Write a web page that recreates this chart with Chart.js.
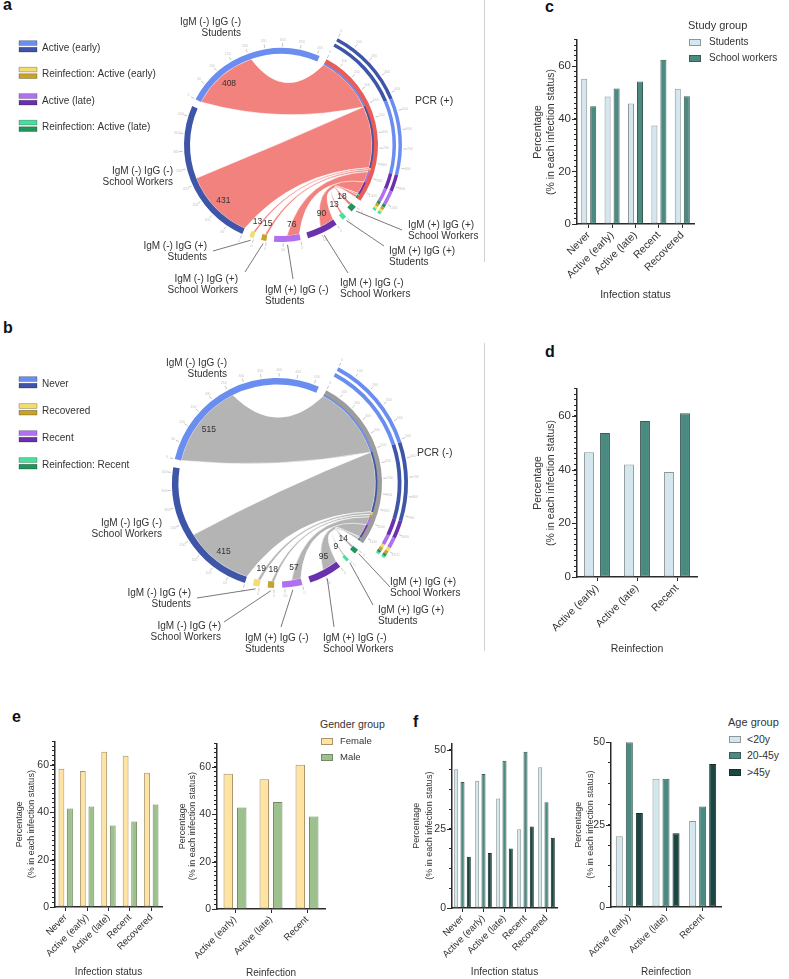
<!DOCTYPE html>
<html>
<head>
<meta charset="utf-8">
<script src="https://cdn.jsdelivr.net/npm/chart.js@4"></script>
<style>
  body { margin: 0; background: #fff; }
  #page { position: relative; width: 789px; height: 979px; overflow: hidden; background: #fff;
          font-family: 'Liberation Sans', Arial, sans-serif; color: #333; }
  #page canvas { position: absolute; }
  .txt { position: absolute; white-space: nowrap; line-height: 1; color: #333; }
  .letter { position: absolute; font-weight: bold; font-size: 16px; line-height: 16px; color: #111; }
  .rule { position: absolute; width: 1px; background: #d0d0d0; }
  .swatch { position: absolute; box-sizing: border-box; border: 1px solid; }
</style>
</head>
<body>
<div id="page">
  <div class="letter" style="left:3px;top:-3px">a</div>
  <div class="letter" style="left:3px;top:320px">b</div>
  <div class="letter" style="left:545px;top:-1px">c</div>
  <div class="letter" style="left:545px;top:344px">d</div>
  <div class="letter" style="left:12px;top:709px">e</div>
  <div class="letter" style="left:413px;top:714px">f</div>
  <div class="rule" style="left:484px;top:0;height:262px"></div>
  <div class="rule" style="left:484px;top:343px;height:308px"></div>
</div>
<script>
Chart.defaults.font.family = "'Liberation Sans', Arial, sans-serif";
Chart.defaults.color = '#333';

// ---- chord diagrams: number of participants per antibody group ----
const groupNames = [
  ['IgM (-) IgG (-)', 'Students'], ['IgM (-) IgG (-)', 'School Workers'],
  ['IgM (-) IgG (+)', 'Students'], ['IgM (-) IgG (+)', 'School Workers'],
  ['IgM (+) IgG (-)', 'Students'], ['IgM (+) IgG (-)', 'School Workers'],
  ['IgM (+) IgG (+)', 'Students'], ['IgM (+) IgG (+)', 'School Workers']
];
const pcrPosCounts = [408, 431, 13, 15, 76, 90, 13, 18];
const pcrNegCounts = [515, 415, 19, 18, 57, 95, 9, 14];
const pcrPosLegend = ['Active (early)', 'Reinfection: Active (early)', 'Active (late)', 'Reinfection: Active (late)'];
const pcrNegLegend = ['Never', 'Recovered', 'Recent', 'Reinfection: Recent'];
const groupColors = ['#6a8ef0', '#3f56a8', '#f3dc70', '#c6a42c', '#b070f0', '#6a30ae', '#45e09c', '#22945c'];

// ---- bar charts: percentage in each infection status ----
const statusLabels = ['Never', 'Active (early)', 'Active (late)', 'Recent', 'Recovered'];
const reinfectionLabels = ['Active (early)', 'Active (late)', 'Recent'];
const studentsByStatus = [55.2, 48.5, 45.8, 37.5, 51.4];
const workersByStatus = [44.8, 51.5, 54.2, 62.5, 48.6];
const studentsByReinfection = [46.4, 41.9, 39.1];
const workersByReinfection = [53.6, 58.1, 60.9];
const femaleByStatus = [58.4, 57.5, 65.6, 63.9, 56.7];
const maleByStatus = [41.6, 42.5, 34.4, 36.1, 43.3];
const femaleByReinfection = [57.1, 54.8, 60.9];
const maleByReinfection = [42.9, 45.2, 39.1];
const under20ByStatus = [43.8, 40.2, 34.6, 24.9, 44.4];
const age20to45ByStatus = [39.8, 42.3, 46.5, 49.3, 33.4];
const over45ByStatus = [16.2, 17.4, 18.8, 25.7, 22.2];
const under20ByReinfection = [21.5, 38.9, 26.1];
const age20to45ByReinfection = [50.0, 38.9, 30.5];
const over45ByReinfection = [28.5, 22.4, 43.4];

const FONT = "'Liberation Sans', Arial, sans-serif";
const page = document.getElementById('page');

function makeCanvas(left, top, width, height) {
  const canvas = document.createElement('canvas');
  canvas.width = width;
  canvas.height = height;
  canvas.style.left = left + 'px';
  canvas.style.top = top + 'px';
  canvas.style.width = width + 'px';
  canvas.style.height = height + 'px';
  page.appendChild(canvas);
  return canvas;
}

// text whose vertical centre sits at y
function addText(x, y, text, size) {
  const el = document.createElement('div');
  el.className = 'txt';
  el.textContent = text;
  el.style.left = x + 'px';
  el.style.top = Math.round(y - size / 2) + 'px';
  el.style.fontSize = size + 'px';
  page.appendChild(el);
}

function addLegend(x, y, title, titleSize, items, itemSize, step, textX) {
  addText(x, y, title, titleSize);
  items.forEach((item, i) => {
    const cy = y + 17 + step * i;
    const sw = document.createElement('div');
    sw.className = 'swatch';
    sw.style.left = (x + 1) + 'px';
    sw.style.top = Math.round(cy - 3.5) + 'px';
    sw.style.width = '12px';
    sw.style.height = '7px';
    sw.style.background = item.fill;
    sw.style.borderColor = item.edge;
    page.appendChild(sw);
    addText(textX, cy, item.name, itemSize);
  });
}

// ---------------- chord diagrams ----------------
const PCR_SPAN = 97;      // degrees of the circle used by the PCR sector
const GAP = 4.5;          // degrees between sectors
const RIBBON_SHARE = 0.5; // part of each group sector taken by its link
const CLEAR = 'rgba(0,0,0,0)';

function chordGeometry(chart, cfg) {
  const ring = chart.getDatasetMeta(4).data;
  const pcr = ring[0];
  const n = cfg.counts.length;
  const total = cfg.counts.reduce((a, b) => a + b, 0);
  const span = pcr.endAngle - pcr.startAngle;
  let cum = 0;
  const links = cfg.counts.map((v, i) => {
    const sector = ring[2 + 2 * (n - 1 - i)];
    const t0 = pcr.startAngle + span * cum / total;
    cum += v;
    return {
      i: i, v: v, sector: sector,
      s0: sector.startAngle,
      s1: sector.startAngle + (sector.endAngle - sector.startAngle) * RIBBON_SHARE,
      t0: t0,
      t1: pcr.startAngle + span * cum / total
    };
  });
  return { cx: pcr.x, cy: pcr.y, r0: pcr.innerRadius, pcr: pcr, links: links, total: total };
}

function bendTo(ctx, g, a, b) {
  const ax = Math.cos(a) * g.r0, ay = Math.sin(a) * g.r0;
  const bx = Math.cos(b) * g.r0, by = Math.sin(b) * g.r0;
  // control point halfway between the centre and the chord midpoint
  const kx = (ax + bx) / 4, ky = (ay + by) / 4;
  ctx.quadraticCurveTo(g.cx + kx, g.cy + ky, g.cx + bx, g.cy + by);
}

function arcTicks(ctx, cx, cy, r, a0, a1, value, step) {
  for (let t = 0; t <= value; t += step) {
    const a = a0 + (a1 - a0) * t / value;
    const c = Math.cos(a), s = Math.sin(a);
    ctx.beginPath();
    ctx.moveTo(cx + c * (r + 1.5), cy + s * (r + 1.5));
    ctx.lineTo(cx + c * (r + 5), cy + s * (r + 5));
    ctx.stroke();
    ctx.fillText(String(t), cx + c * (r + 8), cy + s * (r + 8));
  }
}

function chordPlugin(cfg) {
  return {
    id: 'chordArt',
    beforeDatasetsDraw(chart) {
      const ctx = chart.ctx;
      const g = chordGeometry(chart, cfg);
      ctx.save();
      g.links.forEach(l => {
        ctx.beginPath();
        ctx.arc(g.cx, g.cy, g.r0, l.s0, l.s1);
        bendTo(ctx, g, l.s1, l.t0);
        ctx.arc(g.cx, g.cy, g.r0, l.t0, l.t1);
        bendTo(ctx, g, l.t1, l.s0);
        ctx.closePath();
        ctx.fillStyle = cfg.ribbonColor;
        ctx.fill();
        ctx.strokeStyle = 'rgba(255,255,255,0.85)';
        ctx.lineWidth = 0.7;
        ctx.stroke();
      });
      ctx.restore();
    },
    afterDatasetsDraw(chart) {
      const ctx = chart.ctx;
      const g = chordGeometry(chart, cfg);
      ctx.save();

      // link ends coloured by their group, on the PCR track
      g.links.forEach(l => {
        ctx.beginPath();
        ctx.arc(g.cx, g.cy, g.r0 + 1, l.t0, l.t1);
        ctx.strokeStyle = groupColors[l.i];
        ctx.lineWidth = 1.6;
        ctx.stroke();
      });

      // axis ticks round the sectors
      ctx.strokeStyle = '#b8b8b8';
      ctx.fillStyle = '#c4c4c4';
      ctx.lineWidth = 0.8;
      ctx.font = '3.5px ' + FONT;
      ctx.textAlign = 'center';
      ctx.textBaseline = 'middle';
      g.links.forEach(l => {
        arcTicks(ctx, g.cx, g.cy, l.sector.outerRadius, l.sector.startAngle, l.sector.endAngle, l.v, 50);
      });
      arcTicks(ctx, g.cx, g.cy, g.pcr.outerRadius, g.pcr.startAngle, g.pcr.endAngle, g.total, 100);
      const outer = chart.getDatasetMeta(0).data;
      arcTicks(ctx, g.cx, g.cy, outer[0].outerRadius, outer[0].startAngle,
        outer[outer.length - 1].endAngle, g.total, 100);

      // counts on the links
      ctx.fillStyle = '#333';
      ctx.font = '8.5px ' + FONT;
      g.links.forEach(l => {
        const a = (l.s0 + l.s1) / 2;
        ctx.fillText(String(l.v), g.cx + Math.cos(a) * g.r0 * 0.88, g.cy + Math.sin(a) * g.r0 * 0.88);
      });

      // group labels with leader lines
      ctx.font = '10px ' + FONT;
      ctx.strokeStyle = '#555';
      ctx.lineWidth = 0.8;
      g.links.forEach(l => {
        const spot = cfg.labels[l.i];
        ctx.textAlign = spot[2];
        ctx.fillText(groupNames[l.i][0], spot[0], spot[1]);
        ctx.fillText(groupNames[l.i][1], spot[0], spot[1] + 11.5);
        if (spot.length > 3) {
          const a = (l.sector.startAngle + l.sector.endAngle) / 2;
          const r = l.sector.outerRadius + 3;
          ctx.beginPath();
          ctx.moveTo(spot[3], spot[4]);
          ctx.lineTo(g.cx + Math.cos(a) * r, g.cy + Math.sin(a) * r);
          ctx.stroke();
        }
      });

      ctx.textAlign = 'left';
      ctx.font = '10.5px ' + FONT;
      ctx.fillText(cfg.pcrLabel, cfg.pcrSpot[0], cfg.pcrSpot[1]);

      // legend: light / dark swatch pairs
      ctx.font = '10px ' + FONT;
      cfg.legend.forEach((name, j) => {
        const y = cfg.legendY + cfg.legendStep * j;
        [groupColors[2 * j], groupColors[2 * j + 1]].forEach((col, k) => {
          const top = y - 7.3 + k * 6.6;
          ctx.fillStyle = col;
          ctx.fillRect(19, top, 18, 4.7);
          ctx.strokeStyle = 'rgba(0,0,0,0.35)';
          ctx.lineWidth = 0.7;
          ctx.strokeRect(19, top, 18, 4.7);
        });
        ctx.fillStyle = '#333';
        ctx.fillText(name, 42, y);
      });
      ctx.restore();
    }
  };
}

function makeChord(cfg) {
  const canvas = makeCanvas(0, cfg.top, 480, 330);
  const counts = cfg.counts;
  const total = counts.reduce((a, b) => a + b, 0);
  const degPerCase = (360 - PCR_SPAN - GAP * (counts.length + 1)) / total;

  // inner track: PCR sector first, then the groups clockwise in reverse order
  const ringData = [PCR_SPAN, GAP];
  const ringColors = [cfg.bandColor, CLEAR];
  for (let i = counts.length - 1; i >= 0; i--) {
    ringData.push(counts[i] * degPerCase, GAP);
    ringColors.push(groupColors[i], CLEAR);
  }
  // two outer tracks on the PCR side, largest group first
  const bySize = counts.map((c, i) => i).sort((a, b) => counts[b] - counts[a]);
  const outerData = bySize.map(i => counts[i]);
  const outerColors = bySize.map(i => groupColors[i]);

  return new Chart(canvas, {
    type: 'doughnut',
    data: {
      datasets: [
        { data: outerData, backgroundColor: outerColors, weight: 3.5, circumference: PCR_SPAN },
        { data: [1], backgroundColor: [CLEAR], weight: 2.5 },
        { data: outerData, backgroundColor: outerColors, weight: 3.5, circumference: PCR_SPAN },
        { data: [1], backgroundColor: [CLEAR], weight: 14.5 },
        { data: ringData, backgroundColor: ringColors, weight: 6 }
      ]
    },
    options: {
      responsive: false,
      animation: false,
      events: [],
      devicePixelRatio: 1,
      rotation: 28,
      cutout: '75.2%',
      elements: { arc: { borderWidth: 0 } },
      layout: { padding: cfg.padding },
      plugins: { legend: { display: false }, tooltip: { enabled: false } }
    },
    plugins: [chordPlugin(cfg)]
  });
}

makeChord({
  top: 0,
  counts: pcrPosCounts,
  legend: pcrPosLegend,
  legendY: 48, legendStep: 26.5,
  bandColor: '#e95c58',
  ribbonColor: '#f2827e',
  pcrLabel: 'PCR (+)', pcrSpot: [415, 101],
  padding: { left: 160, top: 24, right: 78, bottom: 64 },
  labels: [
    [241, 22, 'right'], [173, 171, 'right'],
    [207, 246, 'right', 213, 251], [238, 279, 'right', 245, 272],
    [265, 290, 'left', 293, 279], [340, 283, 'left', 348, 273],
    [389, 251, 'left', 384, 246], [408, 225, 'left', 402, 230]
  ]
});

makeChord({
  top: 330,
  counts: pcrNegCounts,
  legend: pcrNegLegend,
  legendY: 54, legendStep: 27,
  bandColor: '#9c9c9c',
  ribbonColor: '#b4b4b4',
  pcrLabel: 'PCR (-)', pcrSpot: [417, 123],
  padding: { left: 146, top: 22, right: 72, bottom: 46 },
  labels: [
    [227, 33, 'right'], [162, 193, 'right'],
    [191, 263, 'right', 197, 268], [221, 296, 'right', 224, 292],
    [245, 308, 'left', 281, 297], [323, 308, 'left', 334, 297],
    [378, 280, 'left', 373, 275], [390, 252, 'left', 390, 257]
  ]
});

// ---------------- bar charts ----------------
const AXIS = '#2a2a2a';
const students = { fill: '#d4e7ef', edge: '#8c9896' };
const workers = { fill: '#4a8a81', edge: '#3d5c55' };
const female = { fill: '#fee3a1', edge: '#a8936b' };
const male = { fill: '#9dc18c', edge: '#758a66' };
const older = { fill: '#1c4641', edge: '#142f2c' };

// longer marks for the labelled (major) y ticks, like the original axes
const majorTicks = {
  id: 'majorTicks',
  afterDraw(chart) {
    const y = chart.scales.y;
    const ctx = chart.ctx;
    ctx.save();
    ctx.strokeStyle = AXIS;
    ctx.lineWidth = 1;
    y.ticks.forEach(t => {
      if (t.label === '') return;
      const py = Math.round(y.getPixelForValue(t.value)) + 0.5;
      ctx.beginPath();
      ctx.moveTo(y.right - 5, py);
      ctx.lineTo(y.right, py);
      ctx.stroke();
    });
    ctx.restore();
  }
};

function makeBarChart(box, labels, series, ax) {
  const canvas = makeCanvas(box.left, box.top, box.width, box.height);
  return new Chart(canvas, {
    type: 'bar',
    data: {
      labels: labels,
      datasets: series.map(s => ({
        label: s.name,
        data: s.values,
        backgroundColor: s.fill,
        borderColor: s.edge,
        borderWidth: 1,
        borderSkipped: false,
        categoryPercentage: ax.cat,
        barPercentage: ax.bar
      }))
    },
    options: {
      responsive: false,
      animation: false,
      events: [],
      devicePixelRatio: 1,
      layout: { padding: { top: box.padTop, right: 6, left: 0, bottom: 0 } },
      plugins: { legend: { display: false }, tooltip: { enabled: false } },
      scales: {
        x: {
          grid: { drawOnChartArea: false, drawTicks: true, tickLength: 4, color: AXIS, offset: false },
          border: { display: true, color: AXIS, width: 1.5 },
          ticks: { minRotation: 45, maxRotation: 45, autoSkip: false, padding: 1,
                   color: '#333', font: { size: ax.labelSize } },
          title: { display: true, text: ax.xTitle, padding: 0, color: '#333',
                   font: { size: ax.xTitleSize, lineHeight: 1.2 } },
          afterFit: scale => { scale.height = box.xH; }
        },
        y: {
          min: 0,
          max: ax.max,
          grid: { drawOnChartArea: false, drawTicks: true, tickLength: 3, color: AXIS },
          border: { display: true, color: AXIS, width: 1.5 },
          ticks: {
            stepSize: ax.step,
            autoSkip: false,
            includeBounds: false,
            padding: 3,
            color: '#333',
            font: { size: ax.tickSize },
            callback: value => (Math.abs(value % ax.major) < 1e-6 ? value : '')
          },
          title: { display: true, text: ['Percentage', '(% in each infection status)'], padding: 0,
                   color: '#333', font: { size: ax.yTitleSize, lineHeight: ax.yTitleLH } },
          afterFit: scale => { scale.width = box.yW; }
        }
      }
    },
    plugins: [majorTicks]
  });
}

const axesCD = { max: 70, step: 2, major: 20, tickSize: 11.5, labelSize: 10.5, xTitleSize: 10.5,
                 yTitleSize: 10.5, yTitleLH: 13 / 10.5 };

// c
makeBarChart({ left: 532, top: 30, width: 168, height: 271, padTop: 8.5, yW: 45, xH: 77 },
  statusLabels,
  [{ name: 'Students', values: studentsByStatus, ...students },
   { name: 'School workers', values: workersByStatus, ...workers }],
  { ...axesCD, cat: 0.77, bar: 0.67, xTitle: 'Infection status' });
addLegend(688, 25, 'Study group', 11,
  [{ name: 'Students', ...students }, { name: 'School workers', ...workers }], 10, 16, 709);

// d
makeBarChart({ left: 532, top: 379, width: 171, height: 276, padTop: 8, yW: 45, xH: 78 },
  reinfectionLabels,
  [{ name: 'Students', values: studentsByReinfection, ...students },
   { name: 'School workers', values: workersByReinfection, ...workers }],
  { ...axesCD, cat: 0.8, bar: 0.62, xTitle: 'Reinfection' });

// e
const axesE = { max: 70, step: 2, major: 20, tickSize: 10.5, labelSize: 9.5, xTitleSize: 10,
                yTitleSize: 9, yTitleLH: 11.5 / 9 };
makeBarChart({ left: 14, top: 732, width: 154, height: 246, padTop: 8, yW: 41, xH: 71 },
  statusLabels,
  [{ name: 'Female', values: femaleByStatus, ...female },
   { name: 'Male', values: maleByStatus, ...male }],
  { ...axesE, cat: 0.8, bar: 0.68, xTitle: 'Infection status' });
makeBarChart({ left: 177, top: 734, width: 154, height: 245, padTop: 8, yW: 40, xH: 70 },
  reinfectionLabels,
  [{ name: 'Female', values: femaleByReinfection, ...female },
   { name: 'Male', values: maleByReinfection, ...male }],
  { ...axesE, yTitleLH: 10.5 / 9, cat: 0.75, bar: 0.7, xTitle: 'Reinfection' });
addLegend(320, 724, 'Gender group', 10.5,
  [{ name: 'Female', ...female }, { name: 'Male', ...male }], 9.5, 16, 340);

// f
const axesF = { step: 6.25, major: 25, tickSize: 10.5, labelSize: 9.5, xTitleSize: 10, yTitleSize: 9 };
makeBarChart({ left: 410, top: 734, width: 153, height: 244, padTop: 8, yW: 42, xH: 70 },
  statusLabels,
  [{ name: '<20y', values: under20ByStatus, ...students },
   { name: '20-45y', values: age20to45ByStatus, ...workers },
   { name: '>45y', values: over45ByStatus, ...older }],
  { ...axesF, max: 52, yTitleLH: 13 / 9, cat: 0.9, bar: 0.64, xTitle: 'Infection status' });
makeBarChart({ left: 573, top: 733, width: 154, height: 245, padTop: 8, yW: 38, xH: 71 },
  reinfectionLabels,
  [{ name: '<20y', values: under20ByReinfection, ...students },
   { name: '20-45y', values: age20to45ByReinfection, ...workers },
   { name: '>45y', values: over45ByReinfection, ...older }],
  { ...axesF, max: 50, yTitleLH: 12 / 9, cat: 0.82, bar: 0.7, xTitle: 'Reinfection' });
addLegend(728, 722, 'Age group', 11,
  [{ name: '<20y', ...students }, { name: '20-45y', ...workers }, { name: '>45y', ...older }],
  10.5, 16.5, 747);
</script>
</body>
</html>
